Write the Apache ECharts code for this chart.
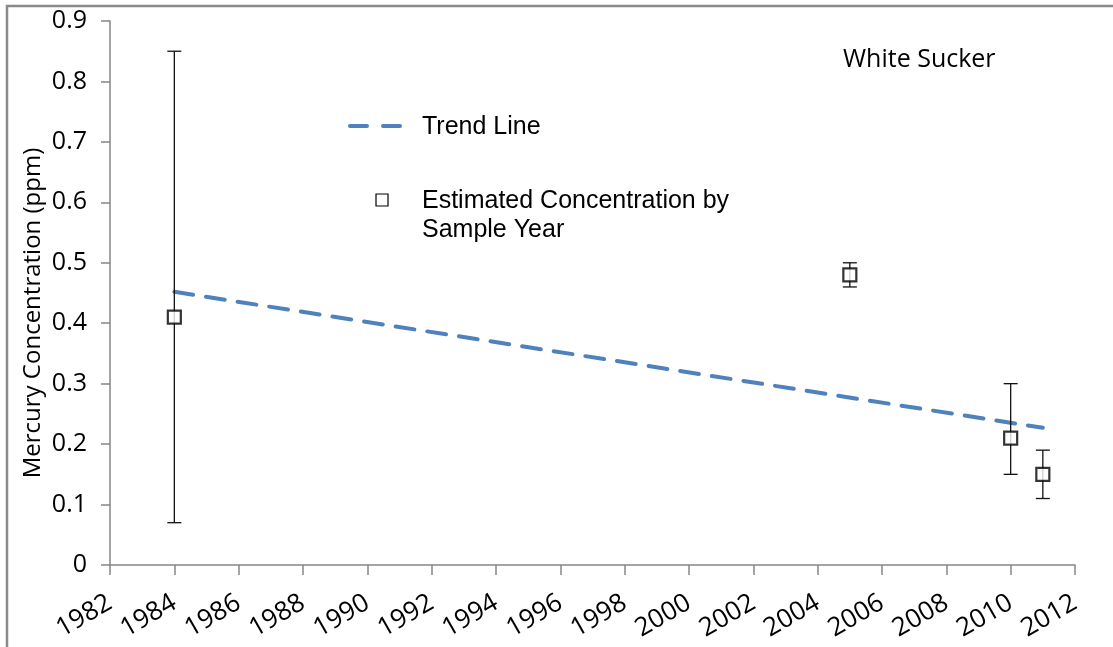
<!DOCTYPE html>
<html>
<head>
<meta charset="utf-8">
<script src="https://cdn.jsdelivr.net/npm/echarts@6/dist/echarts.min.js"></script>
<style>
html,body{margin:0;padding:0;background:#fff;}
#c{width:1113px;height:647px;}
</style>
</head>
<body>
<div id="c"></div>
<script>
// Data
var sampleYears = [1984, 2005, 2010, 2011];
var estimatedConc = [0.41, 0.48, 0.21, 0.15];
var errLow = [0.07, 0.46, 0.15, 0.11];
var errHigh = [0.85, 0.50, 0.30, 0.19];
var trendYears = [1984, 2011];
var trendValues = [0.452, 0.227];
var yTicks = [0, 0.1, 0.2, 0.3, 0.4, 0.5, 0.6, 0.7, 0.8, 0.9];
var xTicks = [1982, 1984, 1986, 1988, 1990, 1992, 1994, 1996, 1998, 2000, 2002, 2004, 2006, 2008, 2010, 2012];

var chart = echarts.init(document.getElementById('c'), null, {renderer: 'canvas'});
var axisGray = '#868686';
var labelFont = '"Open Sans", sans-serif';

var pointData = sampleYears.map(function (y, i) { return [y, estimatedConc[i]]; });
var errData = sampleYears.map(function (y, i) { return [y, errLow[i], errHigh[i]]; });
var trendData = trendYears.map(function (y, i) { return [y, trendValues[i]]; });

var option = {
  animation: false,
  backgroundColor: '#fff',
  textStyle: {fontFamily: labelFont},
  grid: {left: 110, right: 38, top: 21, bottom: 82, containLabel: false},
  xAxis: {
    type: 'value', min: xTicks[0], max: xTicks[xTicks.length - 1], interval: 2,
    axisLine: {show: true, lineStyle: {color: axisGray, width: 1.5}},
    axisTick: {show: true, inside: false, length: 10, lineStyle: {color: axisGray, width: 1.5}},
    splitLine: {show: false},
    axisLabel: {rotate: 30, margin: 36, color: '#000', fontSize: 26, fontFamily: labelFont,
      formatter: function (v) { return String(v); }}
  },
  yAxis: {
    type: 'value', min: yTicks[0], max: yTicks[yTicks.length - 1], interval: 0.1,
    axisLine: {show: true, lineStyle: {color: axisGray, width: 1.5}},
    axisTick: {show: true, inside: false, length: 9, lineStyle: {color: axisGray, width: 1.5}},
    splitLine: {show: false},
    axisLabel: {margin: 23, color: '#000', fontSize: 25, fontFamily: labelFont,
      formatter: function (v) { return String(Math.round(v * 10) / 10); }}
  },
  series: [
    {
      type: 'line', name: 'Trend Line', data: trendData, symbol: 'none',
      lineStyle: {color: '#4f81bd', width: 4, type: [19, 13], cap: 'round'},
      z: 2
    },
    {
      type: 'custom', name: 'errors', data: errData, z: 3,
      renderItem: function (params, api) {
        var x = api.value(0);
        var lo = api.coord([x, api.value(1)]);
        var hi = api.coord([x, api.value(2)]);
        var hw = 7;
        var st = {stroke: '#111', lineWidth: 1.3};
        return {type: 'group', children: [
          {type: 'line', shape: {x1: lo[0], y1: lo[1], x2: hi[0], y2: hi[1]}, style: st},
          {type: 'line', shape: {x1: lo[0] - hw, y1: lo[1], x2: lo[0] + hw, y2: lo[1]}, style: st},
          {type: 'line', shape: {x1: hi[0] - hw, y1: hi[1], x2: hi[0] + hw, y2: hi[1]}, style: st}
        ]};
      }
    },
    {
      type: 'scatter', name: 'Estimated Concentration by Sample Year', data: pointData,
      symbol: 'rect', symbolSize: 13, z: 4,
      itemStyle: {color: '#fff', borderColor: '#000', borderWidth: 2.2}
    }
  ],
  graphic: [
    {type: 'rect', shape: {x: 7, y: 6, width: 1200, height: 700}, style: {fill: 'none', stroke: '#8a8a8a', lineWidth: 2.5}, z: 100},
    {type: 'text', x: 33, y: 313, rotation: Math.PI / 2, style: {text: 'Mercury Concentration (ppm)', font: '24px "Open Sans", sans-serif', fill: '#000', align: 'center', verticalAlign: 'middle'}, z: 100},
    {type: 'line', shape: {x1: 350, y1: 126, x2: 402, y2: 126}, style: {stroke: '#4f81bd', lineWidth: 4, lineDash: [17, 16], lineCap: 'round'}, z: 100},
    {type: 'text', x: 422, y: 127, style: {text: 'Trend Line', font: '25px "Liberation Sans", Arial, sans-serif', fill: '#000', verticalAlign: 'middle'}, z: 100},
    {type: 'rect', shape: {x: 376, y: 194, width: 12, height: 12}, style: {fill: '#fff', stroke: '#000', lineWidth: 1.2}, z: 100},
    {type: 'text', x: 422, y: 201, style: {text: 'Estimated Concentration by', font: '25px "Liberation Sans", Arial, sans-serif', fill: '#000', verticalAlign: 'middle'}, z: 100},
    {type: 'text', x: 422, y: 230, style: {text: 'Sample Year', font: '25px "Liberation Sans", Arial, sans-serif', fill: '#000', verticalAlign: 'middle'}, z: 100},
    {type: 'text', x: 843, y: 60, style: {text: 'White Sucker', font: '25px "Open Sans", sans-serif', fill: '#000', verticalAlign: 'middle'}, z: 100}
  ]
};
chart.setOption(option);
</script>
</body>
</html>
